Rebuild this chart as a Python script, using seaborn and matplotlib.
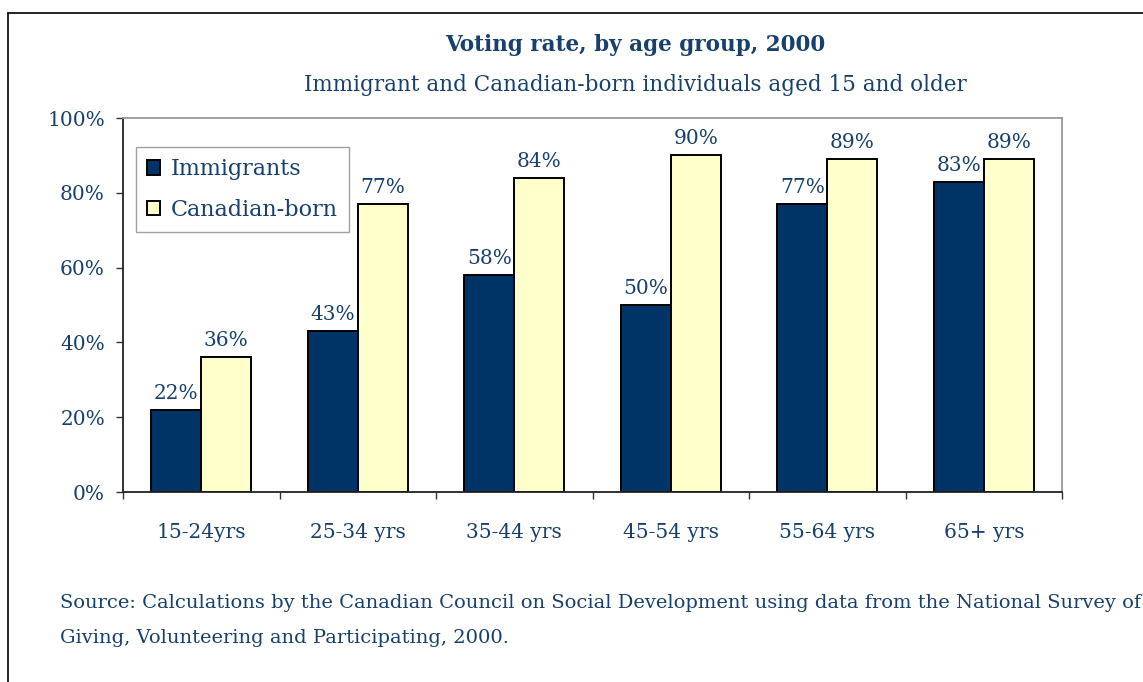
import matplotlib as mpl
import matplotlib.pyplot as plt
import pandas as pd
import seaborn as sns
from matplotlib.lines import Line2D

ages = ["15-24yrs", "25-34 yrs", "35-44 yrs", "45-54 yrs", "55-64 yrs", "65+ yrs"]
immigrants = [22, 43, 58, 50, 77, 83]
canadian_born = [36, 77, 84, 90, 89, 89]
groups = ["Immigrants", "Canadian-born"]

NAVY = "#003366"
IVORY = "#FFFFCC"
TXT = "#17406D"

sns.set_theme(style="white")
mpl.rcParams["font.family"] = ["DejaVu Serif"]
mpl.rcParams["text.color"] = TXT

df = pd.DataFrame({
    "age": ages * 2,
    "group": [groups[0]] * len(ages) + [groups[1]] * len(ages),
    "rate": immigrants + canadian_born,
})

fig = plt.figure(figsize=(11.43, 6.82), dpi=100)
ax = fig.add_axes([123 / 1143, 1 - 492 / 682, 939 / 1143, 374 / 682])

sns.barplot(data=df, x="age", y="rate", hue="group", order=ages, hue_order=groups,
            palette=[NAVY, IVORY], width=0.64, gap=0, edgecolor="black", linewidth=1.4,
            saturation=1, errorbar=None, ax=ax)

for cont in ax.containers:
    ax.bar_label(cont, fmt="%.0f%%", padding=5, fontsize=14.5, color=TXT)

ax.set_ylim(0, 100)
ax.set_xlim(-0.5, len(ages) - 0.5)
ax.set_yticks(range(0, 101, 20))
ax.set_yticklabels([f"{v}%" for v in range(0, 101, 20)])
ax.set_xticks(range(len(ages)))
ax.set_xticks([i - 0.5 for i in range(len(ages) + 1)], minor=True)
ax.tick_params(axis="x", which="major", length=0, pad=22, labelsize=14.5, labelcolor=TXT)
ax.tick_params(axis="x", which="minor", bottom=True, length=5, width=1, color="#333333", direction="out")
ax.tick_params(axis="y", left=True, length=5, width=1, color="#333333", direction="out",
               pad=8, labelsize=14.5, labelcolor=TXT)
ax.set_xlabel("")
ax.set_ylabel("")
for side in ["left", "bottom"]:
    ax.spines[side].set_color("#222222")
    ax.spines[side].set_linewidth(1.3)
for side in ["top", "right"]:
    ax.spines[side].set_color("#999999")
    ax.spines[side].set_linewidth(1.3)

leg = ax.legend(loc="upper left", bbox_to_anchor=(0.0138, 0.922), fontsize=16,
                frameon=True, fancybox=False, edgecolor="#888888", handlelength=0.6,
                handleheight=0.6, handletextpad=0.45, borderpad=0.5, labelspacing=0.85,
                borderaxespad=0)
leg.get_frame().set_linewidth(1.0)
for t in leg.get_texts():
    t.set_color(TXT)

fig.text(635 / 1143, 1 - 45 / 682, "Voting rate, by age group, 2000", ha="center", va="center",
         fontsize=15.5, fontweight="bold", color=TXT)
fig.text(635 / 1143, 1 - 85 / 682, "Immigrant and Canadian-born individuals aged 15 and older",
         ha="center", va="center", fontsize=15.5, color=TXT)
fig.text(60 / 1143, 1 - 603 / 682,
         "Source: Calculations by the Canadian Council on Social Development using data from the National Survey of",
         ha="left", va="center", fontsize=14, color=TXT)
fig.text(60 / 1143, 1 - 638 / 682, "Giving, Volunteering and Participating, 2000.",
         ha="left", va="center", fontsize=14, color=TXT)

# outer frame (left and top edges)
fig.add_artist(Line2D([8 / 1143, 8 / 1143], [0, 1 - 13 / 682], transform=fig.transFigure,
                      color="black", linewidth=1.2))
fig.add_artist(Line2D([8 / 1143, 1], [1 - 13 / 682, 1 - 13 / 682], transform=fig.transFigure,
                      color="black", linewidth=1.2))

fig.savefig("out.png", dpi=100)
